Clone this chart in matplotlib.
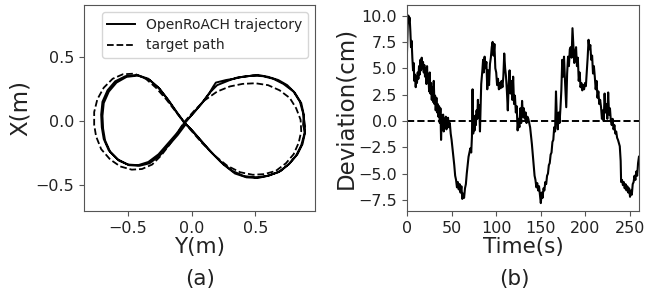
import matplotlib
matplotlib.use("Agg")
import matplotlib.pyplot as plt

# ---- data ----
# target figure-8 path: Y(m) horizontal, X(m) vertical
target_y = [-0.06, 0.02, 0.10, 0.20, 0.30, 0.40, 0.50, 0.60, 0.69, 0.77, 0.82, 0.855,
            0.86, 0.84, 0.80, 0.74, 0.66, 0.57, 0.48, 0.38, 0.28, 0.18, 0.08, 0.01,
            -0.06, -0.13, -0.20, -0.28, -0.36, -0.45, -0.54, -0.62, -0.69, -0.74, -0.765,
            -0.765, -0.75, -0.71, -0.64, -0.56, -0.47, -0.39, -0.31, -0.24, -0.17, -0.11, -0.06]
target_x = [-0.01, 0.08, 0.16, 0.23, 0.27, 0.29, 0.295, 0.28, 0.24, 0.18, 0.10, 0.01,
            -0.08, -0.17, -0.26, -0.33, -0.39, -0.415, -0.42, -0.40, -0.35, -0.27, -0.17, -0.09,
            -0.01, 0.08, 0.17, 0.26, 0.33, 0.37, 0.365, 0.33, 0.26, 0.17, 0.07,
            -0.03, -0.12, -0.22, -0.30, -0.355, -0.38, -0.375, -0.34, -0.27, -0.18, -0.09, -0.01]

# measured trajectory, two laps
traj_y = [-0.06, 0.02, 0.08, 0.14, 0.17, 0.19, 0.23, 0.27, 0.33, 0.40, 0.48, 0.56, 0.64,
          0.72, 0.80, 0.85, 0.875, 0.89, 0.885, 0.86, 0.82, 0.76, 0.68, 0.59, 0.50, 0.41,
          0.32, 0.23, 0.14, 0.06, -0.01, -0.06, -0.12, -0.19, -0.26, -0.34, -0.43, -0.52,
          -0.60, -0.66, -0.70, -0.71, -0.705, -0.69, -0.65, -0.58, -0.50, -0.42, -0.34,
          -0.26, -0.19, -0.12, -0.06,
          -0.05, 0.03, 0.09, 0.15, 0.20, 0.25, 0.30, 0.36, 0.44, 0.52, 0.60, 0.68, 0.75,
          0.81, 0.86, 0.88, 0.875, 0.89, 0.87, 0.83, 0.77, 0.70, 0.61, 0.52, 0.43, 0.34,
          0.25, 0.16, 0.08, 0.01, -0.05, -0.11, -0.18, -0.25, -0.33, -0.42, -0.51, -0.59,
          -0.65, -0.69, -0.70, -0.695, -0.68, -0.64, -0.57, -0.49, -0.41, -0.33, -0.25,
          -0.18, -0.11, -0.05]
traj_x = [-0.02, 0.07, 0.14, 0.22, 0.27, 0.30, 0.31, 0.32, 0.33, 0.345, 0.355, 0.35, 0.33,
          0.29, 0.23, 0.15, 0.06, -0.04, -0.10, -0.19, -0.27, -0.34, -0.40, -0.43, -0.44,
          -0.43, -0.39, -0.32, -0.23, -0.14, -0.06, -0.01, 0.07, 0.17, 0.26, 0.33, 0.36,
          0.35, 0.31, 0.24, 0.15, 0.05, -0.05, -0.14, -0.23, -0.30, -0.34, -0.345, -0.32,
          -0.26, -0.18, -0.10, -0.02,
          -0.01, 0.08, 0.15, 0.23, 0.28, 0.30, 0.32, 0.34, 0.35, 0.36, 0.345, 0.32, 0.28,
          0.22, 0.14, 0.05, -0.03, -0.09, -0.18, -0.26, -0.33, -0.39, -0.425, -0.445, -0.44,
          -0.41, -0.34, -0.25, -0.16, -0.08, -0.02, 0.06, 0.16, 0.25, 0.32, 0.355, 0.345,
          0.30, 0.23, 0.14, 0.04, -0.06, -0.15, -0.24, -0.31, -0.345, -0.35, -0.33, -0.27,
          -0.19, -0.11, -0.03]

# deviation over time
time_s = [0, 0.8, 1.5, 2.2, 3, 3.8, 4.5, 5.2, 6, 6.8, 7.5, 8.2, 9, 9.8, 10.5, 11.2, 12,
          12.8, 13.5, 14.2, 15, 15.8, 16.5, 17.2, 18, 18.8, 19.5, 20.2, 21, 21.8, 22.5,
          23.2, 24, 24.8, 25.5, 26.2, 27, 27.8, 28.5, 29.2, 30, 30.8, 31.5, 32.2, 33, 33.8,
          34.5, 35.2, 36, 36.8, 37.5, 38.2, 39, 39.8, 40.5, 41.2, 42, 42.8, 43.5, 44.2, 45,
          46, 47, 48, 49, 50, 51, 52, 53, 54, 55, 56, 57, 58, 59, 60, 61, 62, 63, 64, 65,
          66, 67, 68, 69, 70, 71, 72, 72.8, 73.5, 74.2, 75, 75.8, 76.5, 77.2, 78, 78.8,
          79.5, 80.2, 81, 81.8, 82.5, 83.2,
          84.5, 85.3, 86, 87, 88, 89, 90, 91, 92, 93, 94, 95, 96, 97, 98, 99, 100, 101,
          102, 103, 104, 105, 106, 107, 108, 109, 110, 111, 112, 113, 114, 115, 116, 117,
          118, 119, 120, 121, 122, 123, 124, 125, 126, 127, 128, 129, 130, 131, 132, 133,
          134, 135, 136, 137, 138, 139, 140, 141, 142, 143, 144, 145, 146, 147, 148, 149,
          150, 151, 152, 153, 154, 155, 156, 157, 158, 159, 160, 161, 162, 163, 164, 165,
          166, 167, 168, 169, 170, 171, 172,
          173, 174, 175, 176, 177, 178.5, 179.5, 180.5, 181.5, 182.5, 183.5, 184.5, 185.5,
          186.5, 187.5, 188.5, 189.5, 190.5, 191.5, 192.5, 193.5, 194.5, 195.5, 196.5,
          197.5, 198.5, 199.5, 200.5, 201.5, 202.5, 203.5, 204.5, 205.5, 206.5, 207.5,
          208.5, 209.5, 210.5, 211.5, 212.5, 213.5, 214.5, 215.5, 216.5, 217.5, 218.5,
          219.5, 220.5, 221.5, 222.5, 223.5, 224.5, 225.5, 226.5, 227.5, 228.5, 229.5,
          230.5, 231.5, 232.5, 233.5, 234.5, 235.5, 236.5, 237.5, 238.5, 239.5, 240, 241,
          242, 243, 244, 245, 246, 247, 248, 249, 250, 251, 252, 253, 254, 255, 256, 257,
          258, 259, 260]
deviation_cm = [6.5, 9.0, 10.0, 9.4, 9.8, 8.5, 7.0, 7.6, 6.0, 4.8, 5.5, 3.8, 4.4, 3.2, 4.2,
                3.6, 4.6, 4.0, 5.2, 4.4, 5.8, 4.8, 6.0, 5.0, 5.6, 4.6, 5.3, 4.2, 5.0, 3.5,
                5.2, 3.6, 4.4, 2.8, 4.6, 2.6, 3.6, 2.0, 3.2, 1.8, 3.8, 1.6, 2.4, 1.0, 2.2,
                0.8, 1.6, 0.4, 1.4, -0.2, 1.2, -1.8, 0.5, -0.8, 0.6, -1.0, 0.2, -0.6, 0.4,
                -0.8, -0.5,
                0.3, -0.6, -0.2, -1.2, -1.8, -2.6, -3.4, -4.2, -5.2, -5.6, -6.3, -5.8, -6.5,
                -6.0, -6.8, -6.2, -7.4, -6.9, -7.3, -6.4, -6.0, -5.0, -4.2, -3.4, -3.0, -2.6,
                -3.0, -1.5, 3.0, -1.2, -0.2, -0.9, 0.5, -0.4, 1.0, 0.2, 2.0, 0.5, 1.5, -1.0,
                1.2, 3.5,
                4.8, 5.8, 4.6, 6.1, 5.0, 5.6, 3.0, 4.8, 3.4, 5.4, 6.0, 7.0, 7.5, 6.2, 7.3,
                5.0, 4.6, 3.4, 4.0, 3.0, 3.6, 3.1, 3.8, 3.2, 4.2, 6.4, 5.0, 4.2, 2.8, 1.0,
                3.5, 4.8, 2.6, 3.8, 2.0, 4.2, 1.6, 2.4, 0.8, 1.4, -0.9, 0.2, -0.6, 1.2, -0.2,
                1.9, 0.4, 1.2, 0.2, 0.8, -0.2, 0.4, 0.2, -0.2, -0.6, -1.4, -2.2, -3.2, -4.2,
                -5.2, -5.6, -6.3, -5.9, -6.6, -6.2, -7.0, -7.8, -6.8, -7.3, -6.4, -6.6, -5.8,
                -6.0, -5.2, -5.0, -4.2, -4.0, -3.2, -3.0, -2.0, -1.8, -0.6, -1.0, 2.8, 0.2,
                -0.8, 0.8, -0.2, 1.2,
                2.9, 5.8, 4.2, 6.1, 4.0, 1.3, 4.5, 6.1, 5.2, 6.8, 7.0, 6.0, 8.8, 7.2, 5.5,
                6.4, 7.0, 5.2, 6.0, 3.8, 4.6, 3.2, 3.6, 2.9, 3.4, 3.0, 3.6, 3.3, 4.6, 6.0,
                7.7, 6.8, 7.2, 5.8, 6.2, 4.5, 5.2, 4.2, 3.0, 3.8, 2.2, 2.8, 1.6, 2.0, 1.3,
                0.2, 1.0, 0.0, 2.6, 0.8, 1.6, 0.2, 2.7, 0.6, 1.2, 0.0, -0.4, 0.2, -0.8, -0.4,
                -1.2, -1.0, -1.6, -1.8, -2.1, -2.4, -3.8, -5.8, -5.6, -6.1, -5.8, -6.4, -6.0,
                -6.6, -6.2, -6.8, -6.4, -7.2, -6.6, -7.0, -6.0, -5.8, -5.2, -5.6, -4.8, -5.2,
                -4.0, -3.4]

TEXT = "#222222"
SPINE = "#555555"

plt.rcParams["font.family"] = "DejaVu Sans"
plt.rcParams["text.color"] = TEXT
plt.rcParams["xtick.color"] = SPINE
plt.rcParams["ytick.color"] = SPINE
plt.rcParams["xtick.labelcolor"] = TEXT
plt.rcParams["ytick.labelcolor"] = TEXT
plt.rcParams["axes.labelcolor"] = TEXT
plt.rcParams["axes.edgecolor"] = SPINE

fig = plt.figure(figsize=(6.46, 2.95), dpi=100)
ax1 = fig.add_axes([0.1300, 0.2847, 0.3576, 0.6983])
ax2 = fig.add_axes([0.6300, 0.2847, 0.3591, 0.6983])

# (a) trajectory
ax1.plot(traj_y, traj_x, color="black", lw=1.4, label="OpenRoACH trajectory")
ax1.plot(target_y, target_x, color="black", lw=1.3, ls="--", label="target path")
ax1.set_xlim(-0.845, 0.968)
ax1.set_ylim(-0.703, 0.906)
ax1.set_xticks([-0.5, 0.0, 0.5])
ax1.set_yticks([-0.5, 0.0, 0.5])
ax1.tick_params(labelsize=11.5)
ax1.set_xlabel("Y(m)", fontsize=15.5, labelpad=1)
ax1.set_ylabel("X(m)", fontsize=16.5, labelpad=3)
ax1.legend(loc="upper right", fontsize=10, borderaxespad=0.5)

# (b) deviation
ax2.plot(time_s, deviation_cm, color="black", lw=1.5)
ax2.axhline(0, color="black", lw=1.4, ls="--")
ax2.set_xlim(0, 260)
ax2.set_ylim(-8.55, 11.0)
ax2.set_xticks([0, 50, 100, 150, 200, 250])
ax2.set_yticks([-7.5, -5.0, -2.5, 0.0, 2.5, 5.0, 7.5, 10.0])
ax2.tick_params(labelsize=11.5)
ax2.set_xlabel("Time(s)", fontsize=15.5, labelpad=1)
ax2.set_ylabel("Deviation(cm)", fontsize=16.5, labelpad=1)

fig.text(0.309, 0.034, "(a)", fontsize=15.5, ha="center")
fig.text(0.797, 0.034, "(b)", fontsize=15.5, ha="center")

fig.savefig("out.png", dpi=100)
